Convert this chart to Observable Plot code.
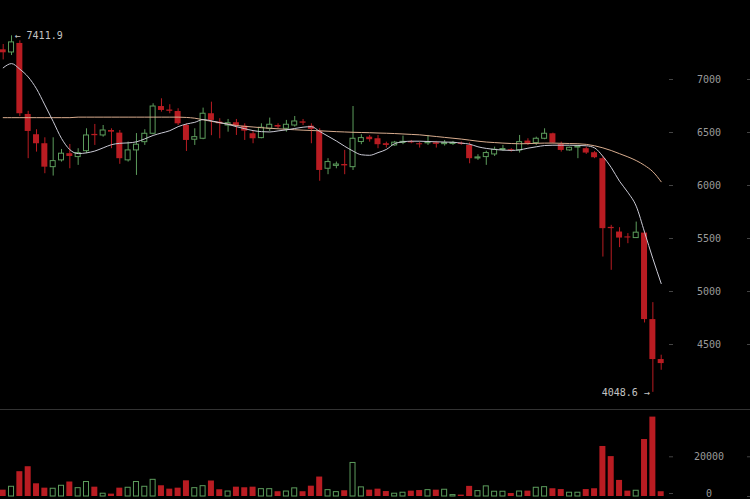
<!DOCTYPE html>
<html>
<head>
<meta charset="utf-8">
<script src="https://cdn.jsdelivr.net/npm/d3@7"></script>
<script src="https://cdn.jsdelivr.net/npm/@observablehq/plot@0.6"></script>
<style>
  html, body { margin: 0; padding: 0; background: #000; }
  #chart { width: 750px; height: 499px; overflow: hidden; background: #000; }
  #chart svg { display: block; }
  #sep { height: 1px; background: #333; }
</style>
</head>
<body>
<div id="chart"></div>
<script>
// ---- data (one entry per candle) ----
const open  = [7280,7255,7340,6670,6479,6394,6173,6237,6300,6268,6324,6482,6472,6519,6494,6237,6331,6409,6488,6745,
               6712,6698,6566,6432,6441,6677,6598,6566,6592,6560,6488,6447,6535,6566,6535,6566,6600,6560,6510,6158,
               6185,6198,6173,6410,6456,6441,6394,6378,6402,6412,6394,6398,6403,6390,6392,6398,6378,6255,6268,6293,
               6334,6337,6331,6419,6400,6441,6488,6387,6331,6358,6347,6309,6253,5605,5561,5515,5504,5551,4735,4358];
const high  = [7330,7411.9,7365,6700,6526,6450,6450,6340,6387,6347,6535,6576,6566,6535,6519,6410,6490,6526,6771,6818,
               6762,6724,6582,6535,6730,6786,6630,6623,6623,6582,6510,6582,6636,6582,6614,6651,6623,6582,6535,6253,
               6221,6331,6745,6479,6472,6472,6409,6416,6466,6425,6409,6472,6416,6425,6416,6410,6403,6290,6324,6362,
               6378,6347,6472,6441,6456,6535,6494,6409,6362,6378,6362,6321,6274,5624,5602,5546,5655,5561,4895,4399];
const low   = [7185,7226,6650,6253,6315,6111,6089,6221,6158,6190,6300,6378,6456,6347,6200,6221,6095,6378,6479,6692,
               6677,6566,6321,6378,6432,6470,6441,6503,6472,6425,6394,6441,6510,6535,6503,6551,6566,6394,6040,6102,
               6158,6102,6142,6385,6409,6347,6353,6370,6385,6394,6353,6378,6353,6372,6378,6380,6205,6237,6190,6274,
               6324,6315,6306,6378,6378,6432,6394,6315,6324,6253,6293,6253,5325,5200,5414,5451,5500,4703,4048.6,4257];
const close = [7252,7350,6677,6510,6394,6173,6230,6300,6274,6306,6472,6470,6519,6503,6253,6331,6385,6488,6745,6708,
               6700,6582,6425,6456,6677,6614,6582,6588,6560,6513,6441,6545,6573,6551,6573,6604,6588,6529,6142,6221,
               6198,6185,6441,6447,6432,6385,6378,6404,6412,6402,6384,6408,6388,6400,6402,6388,6253,6265,6306,6337,
               6344,6327,6409,6394,6441,6488,6400,6331,6356,6368,6306,6262,5593,5593,5504,5505,5555,4735,4358,4320];
const volume = [3200,4900,12500,15000,6400,4200,3900,5400,7300,4200,7300,4700,1400,1200,4200,4400,7300,4900,8400,5400,
                3700,4200,7900,4200,5200,7800,3400,2500,4700,4400,4700,3700,3700,2400,2500,4100,2400,5200,9800,3200,
                2200,2900,16900,4600,3200,3700,2500,1400,1900,2700,3000,3200,3200,3400,700,700,5100,2700,5100,2400,
                2400,1500,2500,2700,4400,4700,3900,3500,1900,1900,3500,3900,25200,20100,8100,2700,2900,28700,40000,2400];
// moving averages as drawn (short = white, long = tan)
const maShort = [7110,7150,7097,7024,6912,6760,6604,6444,6338,6301,6308,6325,6355,6385,6398,6402,6412,6440,6472,6495,
                 6517,6555,6580,6596,6622,6610,6593,6577,6555,6536,6518,6508,6505,6515,6525,6538,6550,6555,6510,6465,
                 6420,6370,6325,6290,6285,6310,6340,6395,6412,6418,6418,6415,6412,6410,6408,6400,6390,6365,6350,6340,
                 6334,6331,6336,6352,6365,6377,6380,6380,6380,6378,6375,6355,6275,6170,6040,5935,5805,5560,5310,5075];
const maLong  = [6640,6640,6640,6640,6640,6640,6640,6640,6640,6645,6645,6645,6645,6645,6645,6645,6645,6645,6645,6645,
                 6645,6645,6642,6635,6620,6605,6592,6580,6566,6558,6552,6545,6540,6535,6530,6526,6522,6519,6516,6512,
                 6508,6505,6502,6500,6498,6495,6493,6490,6486,6482,6478,6470,6462,6454,6446,6438,6428,6418,6410,6405,
                 6400,6396,6394,6395,6398,6400,6400,6398,6396,6394,6388,6375,6355,6330,6300,6270,6235,6190,6130,6035];
const priceTicks  = [4500, 5000, 5500, 6000, 6500, 7000];
const volumeTicks = [0, 20000];
const highLabel = {i: 1, v: 7411.9};
const lowLabel  = {i: 78, v: 4048.6};

// ---- build ----
const RED = "#b91c22", GREEN = "#5c9c5c", AXIS = "#9a9a9a", TICK = "#444";
const candles = open.map((o, i) => ({
  i, open: o, high: high[i], low: low[i], close: close[i], vol: volume[i],
  top: Math.max(o, close[i]), bot: Math.min(o, close[i]), up: close[i] > o
}));
const ups = candles.filter(d => d.up), downs = candles.filter(d => !d.up);
const maS = maShort.map((v, i) => ({i, v}));
const maL = maLong.map((v, i) => ({i, v}));

const baseStyle = {background: "#000", color: AXIS, fontFamily: "'DejaVu Sans Mono', monospace", fontSize: "10px"};
const xScale = {type: "linear", domain: [0, 79], range: [2.7, 660.7], axis: null};

function axes(ticks, dy = 0) {
  return [
    Plot.axisY(ticks, {anchor: "right", tickSize: 4, tickPadding: 36.5, dx: -82, dy, textAnchor: "middle",
                       stroke: TICK, fill: AXIS, tickFormat: d => String(d), label: null}),
    Plot.axisY(ticks, {anchor: "right", tickSize: 4, dx: -4, stroke: TICK, tickFormat: () => "", label: null})
  ];
}

const price = Plot.plot({
  width: 750, height: 409, margin: 0,
  style: baseStyle,
  x: xScale,
  y: {type: "linear", domain: [7000, 4500], range: [79, 344], axis: null},
  marks: [
    ...axes(priceTicks),
    Plot.ruleX(downs, {x: "i", y1: "low", y2: "high", stroke: RED, strokeWidth: 1}),
    Plot.rect(downs, {x1: d => d.i - 0.36, x2: d => d.i + 0.36, y1: "bot", y2: "top", fill: RED}),
    Plot.ruleX(ups, {x: "i", y1: "low", y2: "bot", stroke: GREEN, strokeWidth: 1}),
    Plot.ruleX(ups, {x: "i", y1: "top", y2: "high", stroke: GREEN, strokeWidth: 1}),
    Plot.rect(ups, {x1: d => d.i - 0.3, x2: d => d.i + 0.3, y1: "bot", y2: "top", fill: "none", stroke: GREEN, strokeWidth: 1}),
    Plot.line(maL, {x: "i", y: "v", stroke: "#d9ad8f", strokeWidth: 1, curve: "monotone-x"}),
    Plot.line(maS, {x: "i", y: "v", stroke: "#c9c9d4", strokeWidth: 1, curve: "monotone-x"}),
    Plot.text([highLabel], {x: "i", y: "v", text: d => "\u2190 " + d.v.toFixed(1), textAnchor: "start", dx: 3, fill: "#c4c4c4", fontSize: 10}),
    Plot.text([lowLabel], {x: "i", y: "v", text: d => d.v.toFixed(1) + " \u2192", textAnchor: "end", dx: -3, fill: "#c4c4c4", fontSize: 10})
  ]
});

const vol = Plot.plot({
  width: 750, height: 89, margin: 0,
  style: baseStyle,
  x: xScale,
  y: {type: "linear", domain: [0, 20000], range: [86, 46.3], axis: null},
  marks: [
    ...axes([volumeTicks[1]]),
    ...axes([volumeTicks[0]], -3),
    Plot.rect(downs, {x1: d => d.i - 0.36, x2: d => d.i + 0.36, y1: 0, y2: "vol", fill: RED}),
    Plot.rect(ups, {x1: d => d.i - 0.3, x2: d => d.i + 0.3, y1: 0, y2: "vol", fill: "none", stroke: GREEN, strokeWidth: 1})
  ]
});

const chart = document.getElementById("chart");
chart.appendChild(price);
const sep = document.createElement("div");
sep.id = "sep";
chart.appendChild(sep);
chart.appendChild(vol);
</script>
</body>
</html>
